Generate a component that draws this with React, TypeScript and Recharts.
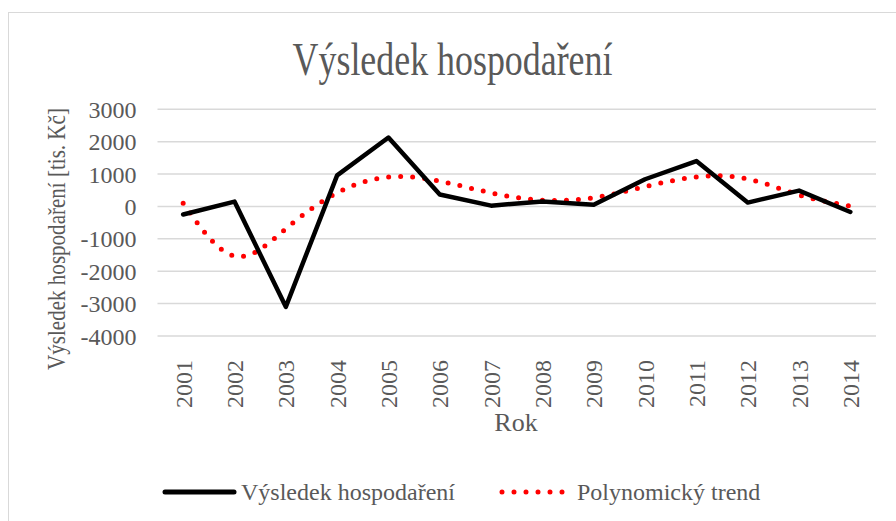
import { LineChart, Line, XAxis, YAxis, CartesianGrid } from "recharts";

const years = [2001, 2002, 2003, 2004, 2005, 2006, 2007, 2008, 2009, 2010, 2011, 2012, 2013, 2014];
const vysledek = [-250, 150, -3100, 960, 2130, 370, 25, 155, 50, 840, 1400, 120, 490, -170];
const trend = [100, -1530, -690, 420, 910, 780, 420, 195, 270, 610, 910, 850, 355, 15];
const yTicks = [3000, 2000, 1000, 0, -1000, -2000, -3000, -4000];

const FONT = "'Liberation Serif', 'Times New Roman', serif";
const GREY = "#595959";

const data = years.map((y, i) => ({ year: y, vysledek: vysledek[i], trend: trend[i] }));

function YearTick({ x, y, payload }: { x: number; y: number; payload: { value: number } }) {
  return (
    <g transform={`translate(${x},${y})`}>
      <text
        transform="rotate(-90)"
        x={-16}
        y={0}
        dy="0.36em"
        textAnchor="end"
        style={{ fontFamily: FONT, fontSize: 24, fill: GREY }}
      >
        {payload.value}
      </text>
    </g>
  );
}

export default function App() {
  return (
    <div style={{ position: "absolute", left: 0, top: 0, width: 896, height: 521, overflow: "hidden", background: "#fff" }}>
      {/* ramecek grafu */}
      <div style={{ position: "absolute", left: 8, top: 12, width: 900, height: 530, border: "1px solid #d9d9d9" }} />
      <LineChart
        width={896}
        height={521}
        data={data}
        margin={{ top: 109.3, right: 20, bottom: 155, left: 97.5 }}
        style={{ position: "absolute", left: 0, top: 0 }}
      >
        <CartesianGrid vertical={false} stroke="#d9d9d9" strokeWidth={1.5} />
        <XAxis
          dataKey="year"
          type="number"
          domain={[2000.5, 2014.5]}
          ticks={years}
          interval={0}
          height={30}
          tick={YearTick}
          tickLine={false}
          axisLine={false}
          label={() => (
            <text x={516} y={431} textAnchor="middle" style={{ fontFamily: FONT, fontSize: 26, fill: GREY }}>
              Rok
            </text>
          )}
        />
        <YAxis
          width={60}
          domain={[-4000, 3000]}
          ticks={yTicks}
          interval={0}
          tickLine={false}
          tickSize={0}
          tickMargin={21}
          axisLine={false}
          tick={{ fontFamily: FONT, fontSize: 24, fill: GREY }}
          label={() => (
            <text
              transform="translate(65,239) rotate(-90) scale(0.81,1)"
              x={0}
              y={0}
              textAnchor="middle"
              style={{ fontFamily: FONT, fontSize: 26, fill: GREY }}
            >
              Výsledek hospodaření [tis. Kč]
            </text>
          )}
        />
        <Line
          type="natural"
          dataKey="trend"
          stroke="#ff0000"
          strokeWidth={5}
          strokeDasharray="0 12"
          strokeLinecap="round"
          dot={false}
          activeDot={false}
          isAnimationActive={false}
        />
        <Line
          type="linear"
          dataKey="vysledek"
          stroke="#000000"
          strokeWidth={4.5}
          strokeLinejoin="round"
          strokeLinecap="round"
          dot={false}
          activeDot={false}
          isAnimationActive={false}
        />
      </LineChart>
      {/* titulek a legenda */}
      <svg width={896} height={521} style={{ position: "absolute", left: 0, top: 0, pointerEvents: "none" }}>
        <text
          transform="translate(452.5,75) scale(0.78,1)"
          x={0}
          y={0}
          textAnchor="middle"
          style={{ fontFamily: FONT, fontSize: 46, fill: GREY }}
        >
          Výsledek hospodaření
        </text>
        <line x1={165} y1={492} x2={234} y2={492} stroke="#000" strokeWidth={5} strokeLinecap="round" />
        <text x={241} y={500} style={{ fontFamily: FONT, fontSize: 24, fill: GREY }}>
          Výsledek hospodaření
        </text>
        <line x1={502} y1={492} x2={566} y2={492} stroke="#ff0000" strokeWidth={5} strokeDasharray="0 12" strokeLinecap="round" />
        <text x={577} y={500} style={{ fontFamily: FONT, fontSize: 24, fill: GREY }}>
          Polynomický trend
        </text>
      </svg>
    </div>
  );
}
